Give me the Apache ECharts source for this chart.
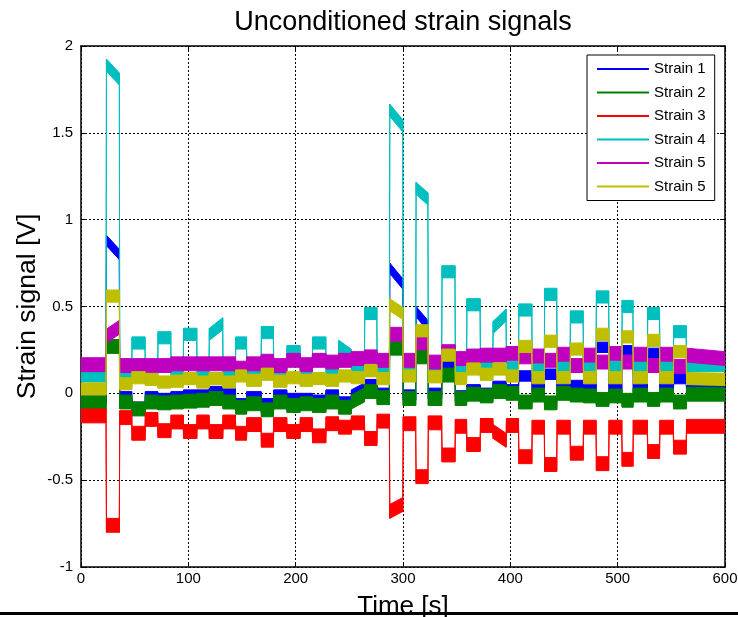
<!DOCTYPE html>
<html>
<head>
<meta charset="utf-8">
<script src="https://cdn.jsdelivr.net/npm/echarts@6/dist/echarts.min.js"></script>
<style>
  html, body { margin: 0; padding: 0; background: #fff; }
  #chart { width: 738px; height: 617px; }
</style>
</head>
<body>
<div id="chart"></div>
<script>
// Load-step schedule [s]: each step switches on at pulseOn[k] and off at pulseOff[k]
const pulseOn  = [23.3, 47.2, 71.4, 95.2, 119.2, 143.8, 167.7, 191.6, 215.4, 239.8, 264.0, 287.3,
                  311.8, 336.0, 359.2, 383.6, 407.6, 431.6, 455.6, 479.8, 503.8, 527.6, 551.8];
const pulseOff = [35.7, 59.6, 83.6, 107.8, 132.0, 154.2, 179.2, 204.0, 228.0, 251.6, 275.6, 299.8,
                  323.2, 348.4, 371.8, 396.0, 420.0, 443.2, 467.8, 491.6, 514.2, 539.0, 563.8];

// Signal level [V] between steps (base, one more than steps) and during each step (peak).
// A pair [a, b] is a level that drifts from a to b over the interval.
const strain1Base = [-0.03, -0.02, -0.02, -0.02, -0.01, 0.0, -0.02, -0.01, -0.03, -0.01, [-0.01, 0.03], 0.0,
                     -0.01, 0.0, -0.015, 0.0, 0.02, 0.04, 0.04, 0.04, 0.04, 0.04, 0.04, 0.04];
const strain1Peak = [[0.88, 0.80], -0.08, -0.03, -0.01, 0.01, -0.06, -0.06, -0.03, -0.04, -0.05, 0.05, [0.72, 0.63],
                     [0.47, 0.39], 0.17, 0.02, 0.04, 0.10, 0.11, 0.045, 0.265, 0.245, 0.23, 0.085];

const strain2Base = [-0.055, -0.05, -0.05, -0.05, -0.04, -0.05, -0.06, -0.05, -0.06, -0.05, [-0.05, -0.01], -0.025,
                     -0.03, -0.03, -0.03, -0.015, 0.0, -0.01, 0.0, -0.015, -0.015, -0.01, -0.01, -0.005];
const strain2Peak = [0.27, -0.09, -0.055, -0.045, -0.03, -0.08, -0.095, -0.07, -0.07, -0.08, 0.01, 0.26,
                     0.21, 0.105, -0.005, 0.01, -0.05, -0.055, -0.01, -0.035, -0.04, -0.035, -0.05];

const strain3Base = [-0.13, -0.14, -0.15, -0.165, -0.165, -0.165, -0.18, -0.18, -0.18, -0.175, -0.17, -0.16,
                     -0.175, -0.17, -0.19, -0.185, -0.185, -0.195, -0.195, -0.195, -0.195, -0.195, -0.195, -0.19];
const strain3Peak = [-0.76, -0.23, -0.215, -0.22, -0.22, -0.23, -0.27, -0.22, -0.245, -0.195, -0.26, [-0.68, -0.64],
                     -0.48, -0.355, -0.295, [-0.22, -0.27], -0.365, -0.41, -0.345, -0.405, -0.38, -0.335, -0.31];

const strain4Base = [0.10, 0.11, 0.11, 0.12, 0.12, 0.12, 0.13, 0.13, 0.13, 0.13, 0.14, 0.14,
                     0.14, 0.14, 0.15, 0.15, 0.15, 0.15, 0.15, 0.15, 0.15, 0.15, 0.15, 0.16];
const strain4Peak = [[1.89, 1.81], 0.29, 0.32, 0.34, [0.34, 0.40], 0.29, 0.35, 0.24, 0.29, [0.27, 0.22], 0.46, [1.63, 1.54],
                     [1.18, 1.12], 0.70, 0.51, [0.38, 0.45], 0.48, 0.57, 0.44, 0.555, 0.50, 0.46, 0.355];

const strain5Base = [0.165, 0.16, 0.16, 0.17, 0.17, 0.17, 0.17, 0.16, 0.165, 0.18, 0.20, 0.19,
                     0.19, 0.18, 0.20, 0.22, 0.23, 0.215, 0.225, 0.22, 0.23, 0.225, 0.225, [0.22, 0.20]];
const strain5Peak = [[0.33, 0.38], 0.16, 0.16, 0.17, 0.17, 0.145, 0.185, 0.19, 0.19, 0.19, 0.21, 0.34,
                     0.29, 0.24, 0.215, 0.22, 0.21, 0.19, 0.16, 0.18, 0.18, 0.16, 0.155];

const strain6Base = [0.025, 0.055, 0.08, 0.07, 0.065, 0.065, 0.075, 0.07, 0.075, 0.075, 0.09, 0.085,
                     0.10, 0.095, 0.085, 0.11, 0.10, 0.09, 0.09, 0.09, 0.09, 0.09, 0.09, [0.085, 0.08]];
const strain6Peak = [0.56, 0.09, 0.065, 0.085, 0.085, 0.10, 0.11, 0.09, 0.085, 0.10, 0.13, [0.51, 0.46],
                     0.36, 0.22, 0.14, 0.14, 0.27, 0.30, 0.255, 0.34, 0.325, 0.305, 0.24];

// Half-width of the measurement noise band of each channel [V]
const noiseBand = [0.03, 0.04, 0.04, 0.035, 0.04, 0.035];

const legendLabels = ['Strain 1', 'Strain 2', 'Strain 3', 'Strain 4', 'Strain 5', 'Strain 5'];
const seriesKeys   = ['s1', 's2', 's3', 's4', 's5', 's6'];
const lineColors   = ['#0000ff', '#008000', '#ff0000', '#00bfbf', '#bf00bf', '#bfbf00'];

const xTickLabels = ['0', '100', '200', '300', '400', '500', '600'];
const yTickLabels = ['-1', '-0.5', '0', '0.5', '1', '1.5', '2'];

const FONT = 'Liberation Sans, Arial, sans-serif';
const EDGE = 0.4; // switching time of a step [s]

function levelPair(v) { return Array.isArray(v) ? v : [v, v]; }

// Centre line of a channel: flat levels joined by fast switching edges
function buildTrace(base, peak) {
  const pts = [];
  for (let k = 0; k < base.length; k++) {
    const [b0, b1] = levelPair(base[k]);
    const t0 = k === 0 ? 0 : pulseOff[k - 1] + EDGE;
    const t1 = k < peak.length ? pulseOn[k] : 600;
    pts.push([t0, b0], [t1, b1]);
    if (k < peak.length) {
      const [p0, p1] = levelPair(peak[k]);
      pts.push([pulseOn[k] + EDGE, p0], [pulseOff[k], p1]);
    }
  }
  return pts;
}

// Each item: [tA, lowA, highA, tB, lowB, highB] – one piece of the noise band
function toBand(pts, hw) {
  const out = [];
  for (let i = 0; i < pts.length - 1; i++) {
    const a = pts[i], b = pts[i + 1];
    out.push([a[0], a[1] - hw, a[1] + hw, b[0], b[1] - hw, b[1] + hw]);
  }
  return out;
}

function renderBand(params, api) {
  const color = api.visual('color');
  const p1 = api.coord([api.value(0), api.value(2)]);
  const p2 = api.coord([api.value(3), api.value(5)]);
  const p3 = api.coord([api.value(3), api.value(4)]);
  const p4 = api.coord([api.value(0), api.value(1)]);
  return {
    type: 'polygon',
    shape: { points: [p1, p2, p3, p4] },
    style: { fill: color, stroke: color, lineWidth: 1 }
  };
}

const bases = [strain1Base, strain2Base, strain3Base, strain4Base, strain5Base, strain6Base];
const peaks = [strain1Peak, strain2Peak, strain3Peak, strain4Peak, strain5Peak, strain6Peak];

const series = seriesKeys.map((key, i) => ({
  type: 'custom',
  name: key,
  renderItem: renderBand,
  clip: true,
  itemStyle: { color: lineColors[i] },
  encode: { x: [0, 3], y: [1, 2, 4, 5] },
  data: toBand(buildTrace(bases[i], peaks[i]), noiseBand[i]),
  z: 2 + i
}));

const chart = echarts.init(document.getElementById('chart'), null, { renderer: 'canvas' });

const frameAxis = {
  axisLine: { show: true, onZero: false, lineStyle: { color: '#000', width: 1.5 } },
  axisTick: { show: true, inside: true, length: 5, lineStyle: { color: '#000', width: 1 } },
  splitLine: { show: false },
  axisLabel: { show: false }
};

chart.setOption({
  animation: false,
  backgroundColor: '#fff',
  title: {
    text: 'Unconditioned strain signals',
    left: 403, top: 9, padding: 0,
    textAlign: 'center',
    textStyle: { fontFamily: FONT, fontSize: 27, fontWeight: 'normal', color: '#000' }
  },
  legend: {
    data: seriesKeys,
    formatter: name => legendLabels[seriesKeys.indexOf(name)],
    orient: 'vertical',
    left: 587, top: 55,
    padding: [6, 9, 6, 10],
    itemWidth: 52, itemHeight: 2, itemGap: 7.5,
    icon: 'rect',
    borderColor: '#000', borderWidth: 1,
    backgroundColor: '#fff',
    selectedMode: false,
    textStyle: { fontFamily: FONT, fontSize: 15, color: '#000', lineHeight: 16 },
    z: 20
  },
  grid: { left: 81, right: 13, top: 46, bottom: 50, containLabel: false, outerBoundsMode: 'none' },
  xAxis: [{
    type: 'value', min: 0, max: 600, interval: 100,
    name: 'Time [s]', nameLocation: 'middle', nameGap: 27, nameMoveOverlap: false,
    nameTextStyle: { fontFamily: FONT, fontSize: 26, color: '#000' },
    axisLine: { show: true, onZero: false, lineStyle: { color: '#000', width: 1.5 } },
    axisTick: { show: true, inside: true, length: 5, lineStyle: { color: '#000' } },
    axisLabel: {
      margin: 4, color: '#000', fontFamily: FONT, fontSize: 15,
      formatter: v => xTickLabels[Math.round(v / 100)]
    },
    splitLine: { show: true, lineStyle: { color: '#000', width: 1, type: [2, 2] } }
  }, Object.assign({ type: 'value', min: 0, max: 600, interval: 100, position: 'top' }, frameAxis)],
  yAxis: [{
    type: 'value', min: -1, max: 2, interval: 0.5,
    name: 'Strain signal [V]', nameLocation: 'middle', nameGap: 40, nameRotate: 90, nameMoveOverlap: false,
    nameTextStyle: { fontFamily: FONT, fontSize: 26.5, color: '#000' },
    axisLine: { show: true, onZero: false, lineStyle: { color: '#000', width: 1.5 } },
    axisTick: { show: true, inside: true, length: 5, lineStyle: { color: '#000' } },
    axisLabel: {
      margin: 8, color: '#000', fontFamily: FONT, fontSize: 15,
      formatter: v => yTickLabels[Math.round((v + 1) / 0.5)]
    },
    splitLine: { show: true, lineStyle: { color: '#000', width: 1, type: [2, 2] } }
  }, Object.assign({ type: 'value', min: -1, max: 2, interval: 0.5, position: 'right' }, frameAxis)],
  graphic: [{
    type: 'line',
    shape: { x1: 0, y1: 613.5, x2: 738, y2: 613.5 },
    style: { stroke: '#000', lineWidth: 3 },
    z: 0
  }],
  series: series
});
</script>
</body>
</html>
